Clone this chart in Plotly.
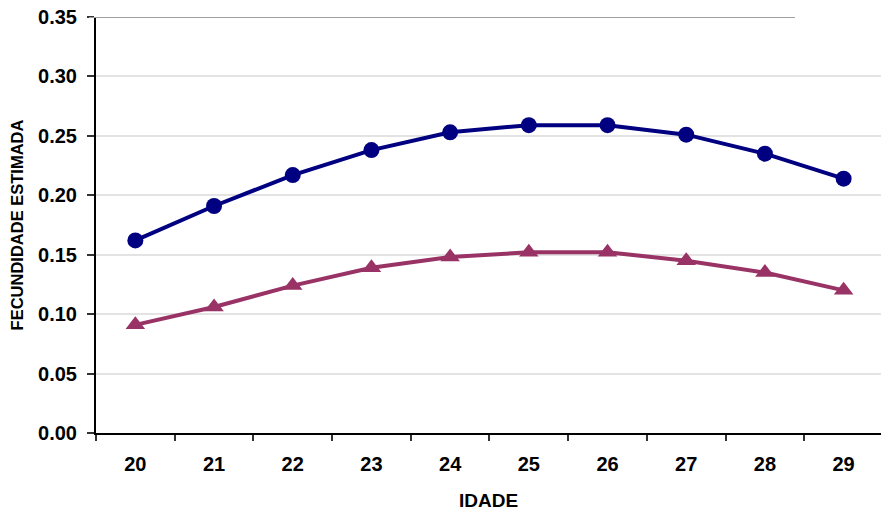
import plotly.graph_objects as go

idade = ["20", "21", "22", "23", "24", "25", "26", "27", "28", "29"]
serie_azul = [0.162, 0.191, 0.217, 0.238, 0.253, 0.259, 0.259, 0.251, 0.235, 0.214]
serie_roxa = [0.091, 0.106, 0.124, 0.139, 0.148, 0.152, 0.152, 0.145, 0.135, 0.120]
y_ticks = [0.0, 0.05, 0.10, 0.15, 0.20, 0.25, 0.30, 0.35]

FONT = "Arial, Liberation Sans, sans-serif"

fig = go.Figure()
fig.add_trace(go.Scatter(
    x=idade, y=serie_azul, mode="lines+markers",
    line=dict(color="#000080", width=4),
    marker=dict(symbol="circle", size=16, color="#000080"),
    showlegend=False))
fig.add_trace(go.Scatter(
    x=idade, y=serie_roxa, mode="lines+markers",
    line=dict(color="#993366", width=4),
    marker=dict(symbol="triangle-up", size=17, color="#993366"),
    showlegend=False))

fig.add_shape(type="line", xref="paper", yref="y",
              x0=(89 - 96) / 785, x1=(795 - 96) / 785, y0=0.35, y1=0.35,
              line=dict(color="#a0a0a0", width=2), layer="above")

fig.update_layout(
    width=881, height=511,
    margin=dict(l=96, r=0, t=17, b=78),
    paper_bgcolor="white", plot_bgcolor="white",
    font=dict(family=FONT, color="black"),
    xaxis=dict(
        type="category", range=[-0.5, 9.475],
        tickson="boundaries", ticks="outside", ticklen=6, tickwidth=1.5,
        tickcolor="#333333",
        showline=True, linecolor="black", linewidth=2,
        showgrid=False, zeroline=False,
        tickfont=dict(family=FONT, size=20, color="black", weight="bold"),
        ticklabelstandoff=12,
        title=dict(text="<b>IDADE</b>", font=dict(family=FONT, size=19), standoff=22),
    ),
    yaxis=dict(
        range=[0, 0.35], tickvals=y_ticks, tickformat=".2f",
        ticks="outside", ticklen=7, tickwidth=1.5, tickcolor="#333333",
        showline=True, linecolor="black", linewidth=2,
        showgrid=True, gridcolor="#e3e3e3", gridwidth=1.5,
        zeroline=False,
        tickfont=dict(family=FONT, size=20, color="black", weight="bold"),
        ticklabelstandoff=6,
        title=dict(text="<b>FECUNDIDADE ESTIMADA</b>", font=dict(family=FONT, size=16.5), standoff=10),
    ),
)

fig.write_html("out.html")
